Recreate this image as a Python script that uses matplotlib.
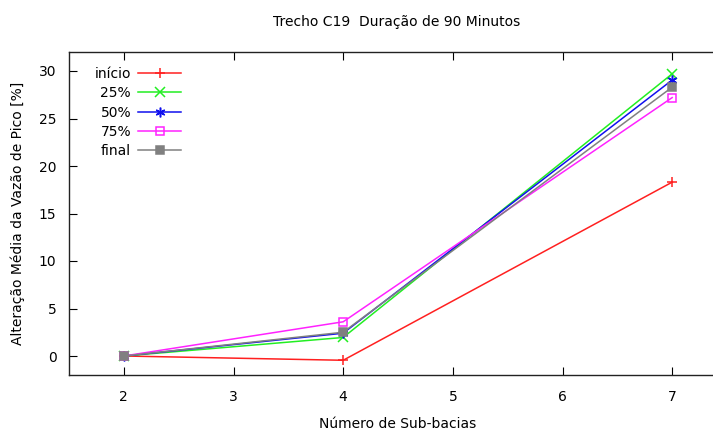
import matplotlib
matplotlib.use("Agg")
import matplotlib.pyplot as plt

x = [2, 4, 7]
labels = ["início", "25%", "50%", "75%", "final"]
inicio = [0.0, -0.45, 18.3]
p25 = [0.0, 1.95, 29.7]
p50 = [0.0, 2.4, 29.05]
p75 = [0.0, 3.6, 27.2]
final = [0.0, 2.5, 28.3]
series = [inicio, p25, p50, p75, final]
colors = ["#ff2020", "#22ee22", "#1010ee", "#ff22ff", "#808080"]
markers = ["+", "x", (6, 2, 0), "s", "s"]
fills = ["full", "full", "full", "none", "full"]
msizes = [7, 6.5, 7, 6, 6]

fig = plt.figure(figsize=(7.13, 4.32), dpi=100)
ax = fig.add_axes([69/713, 1-375/432, (727-69)/713, (375-52)/432])

for vals, lab, c, m, fs, ms in zip(series, labels, colors, markers, fills, msizes):
    ax.plot(x, vals, color=c, marker=m, fillstyle=fs, markersize=ms, lw=1.1,
            markeredgewidth=1.1, label=lab)

ax.set_xlim(1.5, 7.5)
ax.set_ylim(-2, 32)
ax.set_xticks([2, 3, 4, 5, 6, 7])
ax.set_yticks([0, 5, 10, 15, 20, 25, 30])
ax.tick_params(direction="in", length=6, labelsize=10, top=True, right=True)
ax.tick_params(axis="x", pad=11)
ax.tick_params(axis="y", pad=9)
for s in ax.spines.values():
    s.set_linewidth(1.0)
    s.set_color("#222222")

ax.set_xlabel("Número de Sub-bacias", fontsize=10, labelpad=9)
ax.set_ylabel("Alteração Média da Vazão de Pico [%]", fontsize=10, labelpad=10)
fig.text(397/713, 1-22/432, "Trecho C19  Duração de 90 Minutos", ha="center", va="center", fontsize=10)

leg = ax.legend(loc="upper left", bbox_to_anchor=(0.022, 0.988), markerfirst=False, frameon=False,
                fontsize=10, handlelength=3.1, labelspacing=0.38, handletextpad=0.5,
                borderaxespad=0.4)
for t in leg.get_texts():
    t.set_ha("right")
leg._legend_box.align = "right"

fig.savefig("out.png", dpi=100)
